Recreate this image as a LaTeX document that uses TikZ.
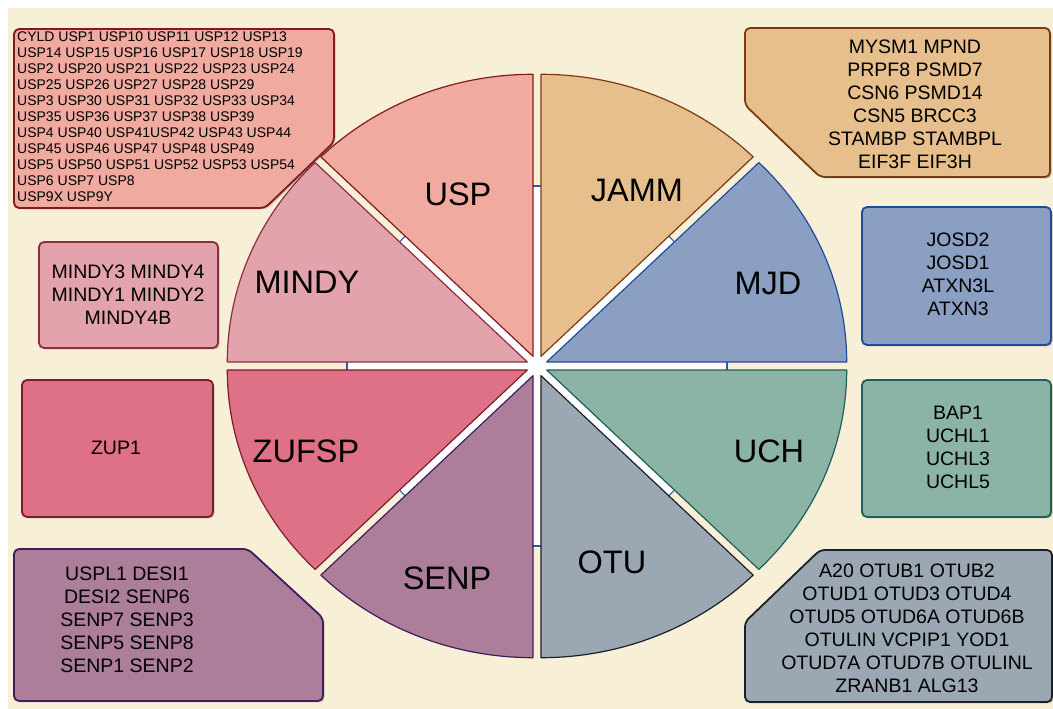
\documentclass[tikz,border=0pt]{standalone}
\usepackage{fontspec}
\setmainfont{Liberation Sans}
\usepackage{tikz}
\usetikzlibrary{calc, positioning, shadows}

\definecolor{cream}{HTML}{F7F0D7}
\definecolor{tickblue}{HTML}{2A5BB0}
\definecolor{uspFill}{HTML}{F0AAA0}   \definecolor{uspLine}{HTML}{84191E}
\definecolor{jammFill}{HTML}{E6BF8C}  \definecolor{jammLine}{HTML}{7B3B12}
\definecolor{mjdFill}{HTML}{8A9FC1}   \definecolor{mjdLine}{HTML}{1E4C9C}
\definecolor{uchFill}{HTML}{8CB4A4}   \definecolor{uchLine}{HTML}{1E5E5C}
\definecolor{otuFill}{HTML}{9BA8B3}   \definecolor{otuLine}{HTML}{1A2028}
\definecolor{senpFill}{HTML}{AD7E99}  \definecolor{senpLine}{HTML}{3D1D5E}
\definecolor{zufspFill}{HTML}{DF7186} \definecolor{zufspLine}{HTML}{7D1C2E}
\definecolor{mindyFill}{HTML}{E3A3AC} \definecolor{mindyLine}{HTML}{8C2E40}

\begin{document}
\begin{tikzpicture}[x=1pt,y=1pt,
    sector label/.style={font=\fontsize{32.5}{36}\selectfont,inner sep=0pt},
    gene list/.style={font=\fontsize{19.5}{23}\selectfont,align=center,inner sep=0pt},
    family box/.style={line width=1.8pt,rounded corners=5pt,
      drop shadow={shadow xshift=1.5pt,shadow yshift=-1.5pt,opacity=0.3,fill=black!70}}]

\useasboundingbox (0,0) rectangle (1053,709);
\fill[white] (0,0) rectangle (1053,709);
\fill[cream] (8,0) rectangle (1053,701);

\coordinate (Center) at (537,343);

% wedges of the ellipse
\begin{scope}[shift={(Center)}]
  \foreach \a in {0,45,...,315}
   { \draw[white,line width=8pt] (0,0) -- (\a:190 and 180);
     \draw[tickblue,line width=1.2pt] ($(\a:190 and 180)+(\a+90:4)$) -- ($(\a:190 and 180)+(\a-90:4)$);}

  \foreach \a/\fc/\lc in {0/mjdFill/mjdLine, 45/jammFill/jammLine, 90/uspFill/uspLine,
                           135/mindyFill/mindyLine, 180/zufspFill/zufspLine,
                           225/senpFill/senpLine, 270/otuFill/otuLine, 315/uchFill/uchLine}
   { \draw[fill=\fc,draw=\lc,line width=1.2pt,line join=round,shift={(\a+22.5:10.5)}]
        (0,0) -- (\a:300 and 282) arc[start angle=\a,end angle=\a+45,x radius=300,y radius=282] -- cycle;}
\end{scope}

\node[sector label] (USPLabel)   at (458,515) {USP};
\node[sector label] (JAMMLabel)  at (637,519) {JAMM};
\node[sector label] (MINDYLabel) at (307,427) {MINDY};
\node[sector label] (MJDLabel)   at (768,426) {MJD};
\node[sector label] (ZUFSPLabel) at (306,258) {ZUFSP};
\node[sector label] (UCHLabel)   at (769,258) {UCH};
\node[sector label] (SENPLabel)  at (447,131) {SENP};
\node[sector label] (OTULabel)   at (612,147) {OTU};

% member boxes
\draw[family box,fill=uspFill,draw=uspLine] (14,680) -- (334,680) -- (334,567) -- (265,501) -- (14,501) -- cycle;
\draw[family box,fill=jammFill,draw=jammLine] (745,681) -- (1050,681) -- (1050,532) -- (820,532) -- (745,604) -- cycle;
\draw[family box,fill=mjdFill,draw=mjdLine] (862,364) rectangle (1051,502);
\draw[family box,fill=uchFill,draw=uchLine] (862,192) rectangle (1051,329);
\draw[family box,fill=mindyFill,draw=mindyLine] (39,361) rectangle (218,467);
\draw[family box,fill=zufspFill,draw=zufspLine] (22,192) rectangle (213,329);
\draw[family box,fill=senpFill,draw=senpLine] (14,8) -- (14,160) -- (248,160) -- (323,91) -- (323,8) -- cycle;
\draw[family box,fill=otuFill,draw=otuLine] (745,7) -- (745,87) -- (820,159) -- (1052,159) -- (1052,7) -- cycle;

\node[gene list,font=\fontsize{14}{16}\selectfont,align=left,anchor=west] (USPList) at (17,592)
  {CYLD USP1 USP10 USP11 USP12 USP13\\ USP14 USP15 USP16 USP17 USP18 USP19\\
   USP2 USP20 USP21 USP22 USP23 USP24\\ USP25 USP26 USP27 USP28 USP29\\
   USP3 USP30 USP31 USP32 USP33 USP34\\ USP35 USP36 USP37 USP38 USP39\\
   USP4 USP40 USP41USP42 USP43 USP44\\ USP45 USP46 USP47 USP48 USP49\\
   USP5 USP50 USP51 USP52 USP53 USP54\\ USP6 USP7 USP8\\ USP9X USP9Y};
\node[gene list] (JAMMList) at (915,605)
  {MYSM1 MPND\\ PRPF8 PSMD7\\ CSN6 PSMD14\\ CSN5 BRCC3\\ STAMBP STAMBPL\\ EIF3F EIF3H};
\node[gene list] (MJDList) at (958,435) {JOSD2\\ JOSD1\\ ATXN3L\\ ATXN3};
\node[gene list] (UCHList) at (958,262) {BAP1\\ UCHL1\\ UCHL3\\ UCHL5};
\node[gene list] (MINDYList) at (128,414) {MINDY3 MINDY4\\ MINDY1 MINDY2\\ MINDY4B};
\node[gene list] (ZUFSPList) at (116,261) {ZUP1};
\node[gene list] (SENPList) at (127,89)
  {USPL1 DESI1\\ DESI2 SENP6\\ SENP7 SENP3\\ SENP5 SENP8\\ SENP1 SENP2};
\node[gene list] (OTUList) at (907,81)
  {A20 OTUB1 OTUB2\\ OTUD1 OTUD3 OTUD4\\ OTUD5 OTUD6A OTUD6B\\ OTULIN VCPIP1 YOD1\\
   OTUD7A OTUD7B OTULINL\\ ZRANB1 ALG13};

\end{tikzpicture}
\end{document}
